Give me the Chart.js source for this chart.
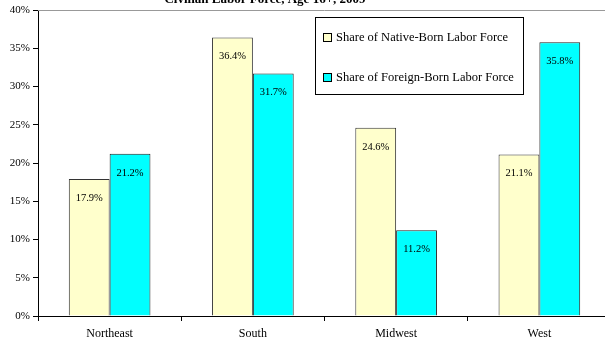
<!DOCTYPE html>
<html>
<head>
<meta charset="utf-8">
<script src="https://cdn.jsdelivr.net/npm/chart.js@4"></script>
<style>
  html, body { margin: 0; padding: 0; background: #fff; overflow: hidden; width: 605px; height: 343px; }
  #wrap { position: absolute; left: 0; top: -14px; width: 612px; height: 357px; }
</style>
</head>
<body>
<div id="wrap"><canvas id="myChart" width="612" height="357"></canvas></div>
<script>
const regions = ['Northeast', 'South', 'Midwest', 'West'];
const nativeBorn = [17.9, 36.4, 24.6, 21.1];
const foreignBorn = [21.2, 31.7, 11.2, 35.8];
const seriesNames = ['Share of Native-Born Labor Force', 'Share of Foreign-Born Labor Force'];
const seriesColors = ['#FFFFCC', '#00FFFF'];
const titleText = 'Civilian Labor Force, Age 16+, 2009';

const serif = 'Liberation Serif';

// title, plot border, value labels and the boxed legend
const extras = {
    id: 'extras',
    afterDatasetsDraw(chart) {
        const ctx = chart.ctx;
        const area = chart.chartArea;
        ctx.save();
        // plot area border (gray)
        ctx.strokeStyle = '#999';
        ctx.lineWidth = 1;
        ctx.beginPath();
        ctx.moveTo(area.left, area.top + 0.5);
        ctx.lineTo(area.right, area.top + 0.5);
        ctx.stroke();

        // title
        ctx.fillStyle = '#000';
        ctx.font = 'bold 13px "' + serif + '"';
        ctx.textAlign = 'center';
        ctx.textBaseline = 'alphabetic';
        ctx.fillText(titleText, 265, 17);

        // value labels
        ctx.font = '10.5px "' + serif + '"';
        ctx.textBaseline = 'middle';
        chart.data.datasets.forEach((ds, i) => {
            chart.getDatasetMeta(i).data.forEach((bar, j) => {
                ctx.fillText(ds.data[j].toFixed(1) + '%', bar.x, bar.y + 19);
            });
        });

        // legend
        const lx = 315, ly = 31, lw = 208, lh = 77;
        ctx.fillStyle = '#fff';
        ctx.fillRect(lx, ly, lw, lh);
        ctx.strokeStyle = '#000';
        ctx.strokeRect(lx + 0.5, ly + 0.5, lw, lh);
        ctx.font = '12.5px "' + serif + '"';
        ctx.textAlign = 'left';
        seriesNames.forEach((name, i) => {
            const y = ly + 21 + i * 40;
            ctx.fillStyle = seriesColors[i];
            ctx.fillRect(323.5, y - 4.5, 8, 8);
            ctx.strokeStyle = '#000';
            ctx.strokeRect(323.5, y - 4.5, 8, 8);
            ctx.fillStyle = '#000';
            ctx.fillText(name, 336, y);
        });
        ctx.restore();
    }
};

const ctx = document.getElementById('myChart').getContext('2d');
const myChart = new Chart(ctx, {
    type: 'bar',
    data: {
        labels: regions,
        datasets: [{
            label: seriesNames[0],
            data: nativeBorn,
            backgroundColor: seriesColors[0],
            borderColor: '#333',
            borderWidth: 1,
            categoryPercentage: 0.57,
            barPercentage: 1.0
        }, {
            label: seriesNames[1],
            data: foreignBorn,
            backgroundColor: seriesColors[1],
            borderColor: '#222',
            borderWidth: 1,
            categoryPercentage: 0.57,
            barPercentage: 1.0
        }]
    },
    options: {
        responsive: false,
        animation: false,
        layout: { padding: { top: 24, right: 1, left: 0, bottom: 0 } },
        plugins: {
            legend: { display: false },
            title: { display: false },
            tooltip: { enabled: false }
        },
        scales: {
            x: {
                grid: { offset: true, drawOnChartArea: false, drawTicks: true, tickLength: 5, color: '#000' },
                border: { color: '#000' },
                ticks: { color: '#000', padding: 6, font: { family: serif, size: 12 } },
                afterFit(scale) { scale.height = 27; }
            },
            y: {
                min: 0,
                max: 40,
                grid: { drawOnChartArea: false, drawTicks: true, tickLength: 5, color: '#000' },
                border: { color: '#000' },
                ticks: {
                    stepSize: 5,
                    color: '#000',
                    padding: 3,
                    font: { family: serif, size: 11 },
                    callback: v => v + '%'
                },
                afterFit(scale) { scale.width = 38; }
            }
        }
    },
    plugins: [extras]
});
</script>
</body>
</html>
